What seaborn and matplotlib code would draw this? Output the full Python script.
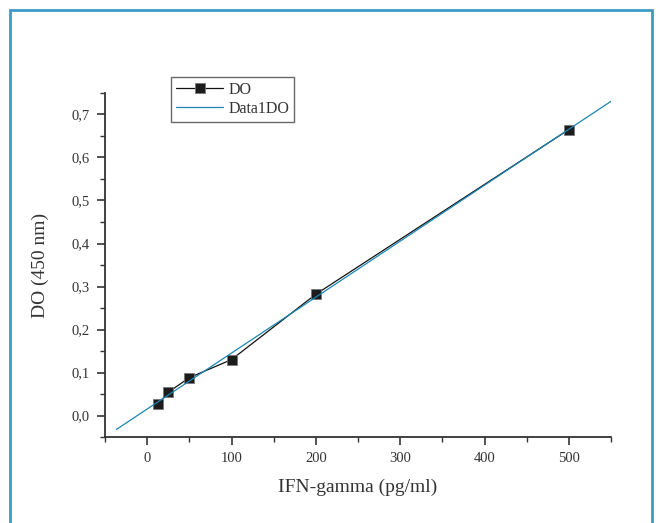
import numpy as np
import pandas as pd
import matplotlib
matplotlib.use("Agg")
import matplotlib.pyplot as plt
from matplotlib.patches import Rectangle
from matplotlib.ticker import MultipleLocator, FuncFormatter
import seaborn as sns

# Standard curve: IFN-gamma concentration vs optical density at 450 nm
conc = [12.5, 25, 50, 100, 200, 500]
od = [0.026, 0.054, 0.088, 0.130, 0.282, 0.665]

# Range over which the linear fit is drawn
fit_range = [-36.5, 550]

sns.set_theme(style="white")
plt.rcParams["font.family"] = ["Liberation Serif", "DejaVu Serif"]
text_color = "#333333"
axis_color = "#333333"
blue = "#1a86b4"

df = pd.DataFrame({"conc": conc, "od": od})
slope, intercept = np.polyfit(df["conc"], df["od"], 1)
fit_x = np.array(fit_range)
fit_df = pd.DataFrame({"conc": fit_x, "od": intercept + slope * fit_x})

fig = plt.figure(figsize=(6.58, 5.23), dpi=100)
ax = fig.add_axes([105 / 658, 1 - 437 / 523, 506 / 658, 344 / 523])

sns.lineplot(data=df, x="conc", y="od", ax=ax, color="#111111", linewidth=0.9,
             marker="s", markersize=7.5, markerfacecolor="#1c1c1c",
             markeredgecolor="#777777", markeredgewidth=0.6, label="DO")
sns.lineplot(data=fit_df, x="conc", y="od", ax=ax, color=blue, linewidth=0.9,
             label="Data1DO")

ax.set_xlim(-50, 550)
ax.set_ylim(-0.05, 0.75)
ax.xaxis.set_major_locator(MultipleLocator(100))
ax.xaxis.set_minor_locator(MultipleLocator(50))
ax.yaxis.set_major_locator(MultipleLocator(0.1))
ax.yaxis.set_minor_locator(MultipleLocator(0.05))
ax.yaxis.set_major_formatter(FuncFormatter(lambda v, p: f"{v:.1f}".replace(".", ",")))
ax.xaxis.set_major_formatter(FuncFormatter(lambda v, p: f"{v:.0f}"))

for s in ["top", "right"]:
    ax.spines[s].set_visible(False)
for s in ["left", "bottom"]:
    ax.spines[s].set_color(axis_color)
    ax.spines[s].set_linewidth(1.3)

ax.tick_params(axis="both", which="major", direction="out", length=6, width=1.2,
               color=axis_color, labelsize=10.5, labelcolor=text_color, pad=5,
               bottom=True, left=True)
ax.tick_params(axis="both", which="minor", direction="out", length=3.5, width=1.0,
               color=axis_color, bottom=True, left=True)

ax.set_xlabel("IFN-gamma (pg/ml)", fontsize=14, color=text_color, labelpad=10)
ax.set_ylabel("DO (450 nm)", fontsize=14, color=text_color, labelpad=16)

leg = ax.legend(loc="upper left", bbox_to_anchor=(0.130, 1.0465), borderaxespad=0,
                frameon=True, fancybox=False, fontsize=11.5, handlelength=3.0,
                borderpad=0.3, labelspacing=0.2, handletextpad=0.3)
leg.get_frame().set_edgecolor("#444444")
leg.get_frame().set_linewidth(1.0)
for t in leg.get_texts():
    t.set_color(text_color)

# Blue frame around the figure
fig.patches.append(Rectangle((10 / 658, -0.1), 642 / 658, 1.1 - 10 / 523,
                             transform=fig.transFigure, fill=False,
                             edgecolor="#3b9dc6", linewidth=2.0))

fig.savefig("out.png", dpi=100)
